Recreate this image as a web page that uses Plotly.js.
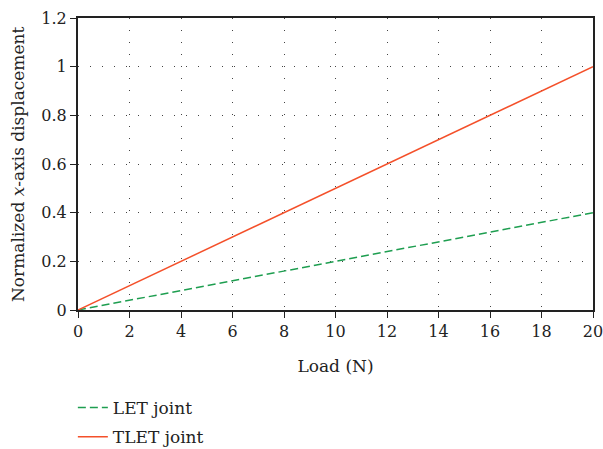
<!DOCTYPE html>
<html>
<head>
<meta charset="utf-8">
<script src="https://cdn.plot.ly/plotly-3.0.1.min.js"></script>
<style>html,body{margin:0;padding:0;background:#fff;}#chart{width:603px;height:449px;}</style>
</head>
<body>
<div id="chart"></div>
<script>
const loads = [0, 2, 4, 6, 8, 10, 12, 14, 16, 18, 20];
const letJoint = [0, 0.04, 0.08, 0.12, 0.16, 0.20, 0.24, 0.28, 0.32, 0.36, 0.40];
const tletJoint = [0, 0.1, 0.2, 0.3, 0.4, 0.5, 0.6, 0.7, 0.8, 0.9, 1.0];
const xTicks = [0, 2, 4, 6, 8, 10, 12, 14, 16, 18, 20];
const yTicks = [0, 0.2, 0.4, 0.6, 0.8, 1, 1.2];
const yTickLabels = ['0', '0.2', '0.4', '0.6', '0.8', '1', '1.2'];

const font = 'DejaVu Serif, Liberation Serif, serif';
const traces = [
  {x: loads, y: letJoint, name: 'LET joint', mode: 'lines', legendgroup: 'a',
   line: {color: '#1e9e50', width: 1.5, dash: '8px,4px'}},
  {x: loads, y: tletJoint, name: 'TLET joint', mode: 'lines', legendgroup: 'b',
   line: {color: '#f4502a', width: 1.5}}
];
const layout = {
  width: 603, height: 449,
  margin: {l: 78, r: 10, t: 18, b: 139, autoexpand: false},
  paper_bgcolor: '#fff', plot_bgcolor: '#fff',
  font: {family: font, size: 16, color: '#222'},
  showlegend: true,
  legend: {x: -0.01, xanchor: 'left', y: -0.274, yanchor: 'top',
           font: {family: font, size: 17, color: '#222'}, tracegroupgap: 4},
  xaxis: {
    range: [0, 20], tickvals: xTicks, ticktext: xTicks.map(String),
    showline: true, linecolor: '#222', linewidth: 2, mirror: true,
    ticks: 'outside', ticklen: 6, tickwidth: 1, tickcolor: '#222',
    ticklabeloverflow: 'allow',
    showgrid: true, gridcolor: '#444', gridwidth: 1, griddash: '1px,11px',
    zeroline: false,
    title: {text: 'Load (N)', font: {family: font, size: 17, color: '#222'}, standoff: 20}
  },
  yaxis: {
    range: [0, 1.2], tickvals: yTicks, ticktext: yTickLabels,
    showline: true, linecolor: '#222', linewidth: 2, mirror: true,
    ticks: 'outside', ticklen: 6, tickwidth: 1, tickcolor: '#222',
    ticklabeloverflow: 'allow',
    showgrid: true, gridcolor: '#444', gridwidth: 1, griddash: '1px,11px',
    zeroline: false
  },
  annotations: [{
    text: 'Normalized <i>x</i>-axis displacement', textangle: -90,
    xref: 'paper', yref: 'paper', x: -0.1165, y: 0.5, xanchor: 'center', yanchor: 'middle',
    showarrow: false, font: {family: font, size: 17, color: '#222'}
  }]
};
Plotly.newPlot('chart', traces, layout, {displayModeBar: false, staticPlot: true});
</script>
</body>
</html>
